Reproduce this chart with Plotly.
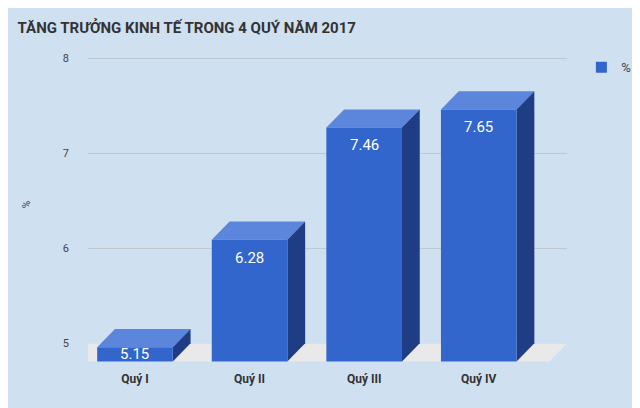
import plotly.graph_objects as go

categories = ["Quý I", "Quý II", "Quý III", "Quý IV"]
values = [5.15, 6.28, 7.46, 7.65]
y_ticks = [5, 6, 7, 8]

FRONT = "#3366cc"
SIDE = "#1f3d85"
TOP = "#5b86dc"
BG = "#cfe0f1"
base = 5.0
dx, dy = 0.155, 0.19   # fake 3d depth in data units
hw = 0.33              # half width of bar front

fig = go.Figure()

# floor
fig.add_trace(go.Scatter(x=[-0.41, 3.77, 3.77 - dx, -0.41 - dx, -0.41],
                         y=[base, base, base - dy, base - dy, base],
                         fill="toself", fillcolor="#e9e9ea", line=dict(width=0),
                         mode="lines", hoverinfo="skip", showlegend=False, cliponaxis=False))

for i, v in enumerate(values):
    xl, xr = i - hw, i + hw
    b, t = base - dy, v - dy
    faces = [
        ([xl, xr, xr + dx, xl + dx, xl], [t, t, v, v, t], TOP),
        ([xr, xr + dx, xr + dx, xr, xr], [b, base, v, t, b], SIDE),
        ([xl, xr, xr, xl, xl], [b, b, t, t, b], FRONT),
    ]
    for fx, fy, col in faces:
        fig.add_trace(go.Scatter(x=fx, y=fy, fill="toself", fillcolor=col, line=dict(width=0),
                                 mode="lines", hoverinfo="skip", showlegend=False))

# legend entry
fig.add_trace(go.Scatter(x=[None], y=[None], mode="markers", name="%",
                         marker=dict(symbol="square", size=11, color=FRONT)))

for i, v in enumerate(values):
    front_h = v - base
    if front_h < 0.5:
        fig.add_annotation(x=i, y=(v - dy + base - dy) / 2, text=f"{v:.2f}", showarrow=False,
                           font=dict(color="white", size=15, family="Roboto"))
    else:
        fig.add_annotation(x=i, y=v - dy, yshift=-18, text=f"{v:.2f}", showarrow=False,
                           font=dict(color="white", size=15, family="Roboto"))

fig.update_layout(
    width=640, height=408, paper_bgcolor=BG, plot_bgcolor=BG,
    margin=dict(l=80, r=70, t=31, b=46),
    font=dict(family="Roboto", color="#444"),
    title=dict(text="<b>TĂNG TRƯỞNG KINH TẾ TRONG 4 QUÝ NĂM 2017</b>", x=0.015, y=0.965,
               font=dict(size=15, color="#333")),
    xaxis=dict(range=[-0.41, 3.77], tickvals=list(range(4)), ticktext=[f"<b>{c}</b>" for c in categories],
               showgrid=False, zeroline=False, showline=False, ticks="", tickfont=dict(size=12, color="#333")),
    yaxis=dict(range=[4.72, 8.2], tickvals=y_ticks, gridcolor="#bfc8d0", zeroline=False,
               tickfont=dict(size=11, color="#444"), ticklabelstandoff=18,
               title=dict(text="%", font=dict(size=10), standoff=30)),
    legend=dict(x=1.03, y=0.96, xanchor="left", yanchor="top", bgcolor="rgba(0,0,0,0)",
                font=dict(size=13, color="#444")),
)

fig.write_html("out.html")
